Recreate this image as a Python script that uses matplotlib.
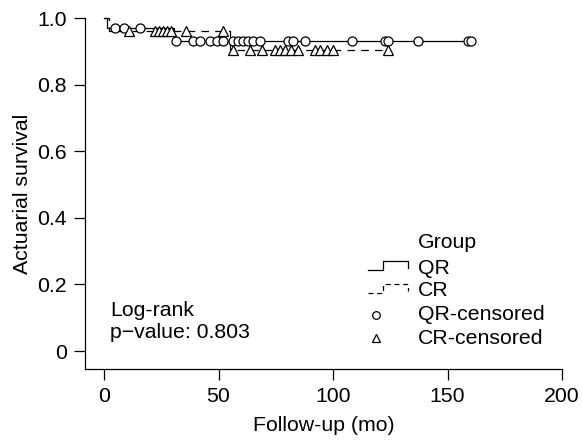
import numpy as np
import matplotlib
matplotlib.use("Agg")
import matplotlib.pyplot as plt
from matplotlib.lines import Line2D

plt.rcParams['font.family'] = ['Liberation Sans', 'DejaVu Sans']
plt.rcParams['font.size'] = 15.3

# step curves (time in months, survival)
qr_step_t = [0, 1.5, 30.5]
qr_step_s = [1.0, 0.970, 0.932]
qr_end = 160.3
cr_step_t = [0, 2.0, 55.0]
cr_step_s = [1.0, 0.961, 0.904]
cr_end = 124.0

# censoring times
qr_cens = [4.8, 8.7, 15.7, 31.5, 38.9, 41.9, 46.3, 49.3, 52.0, 56.3, 58.5,
           60.7, 62.9, 65.1, 68.1, 80.3, 82.5, 87.8, 108.3, 122.7, 124.0,
           137.1, 159.0, 160.3]
cr_cens = [10.9, 22.3, 24.0, 25.8, 27.5, 29.3, 35.8, 52.0, 56.5, 63.8, 69.0,
           74.7, 76.9, 79.0, 81.7, 84.7, 92.1, 94.3, 97.4, 100.0, 124.0]

pvalue = 0.803


def step_at(times, levels, t):
    idx = np.searchsorted(times, t, side='right') - 1
    return np.asarray(levels)[idx]


W, H = 582, 441
fig = plt.figure(figsize=(W / 100, H / 100), dpi=100)
ax = fig.add_axes([85 / W, 1 - 369 / H, 477 / W, 351 / H])

lw = 0.9
ax.step(qr_step_t + [qr_end], qr_step_s + [qr_step_s[-1]], where='post',
        color='black', lw=lw, clip_on=False)
ax.step(cr_step_t + [cr_end], cr_step_s + [cr_step_s[-1]], where='post',
        color='black', lw=lw, ls=(0, (6, 5)), clip_on=False)
ax.plot(qr_cens, step_at(qr_step_t, qr_step_s, qr_cens), ls='none',
        marker='o', ms=6.5, mfc='white', mec='black', mew=0.9, clip_on=False)
ax.plot(cr_cens, step_at(cr_step_t, cr_step_s, cr_cens), ls='none',
        marker='^', ms=7.5, mfc='white', mec='black', mew=0.9, clip_on=False)

ax.set_xlim(-8.3, 200)
ax.set_ylim(-0.054, 1.0)
ax.set_xticks([0, 50, 100, 150, 200])
ax.set_yticks([0, 0.2, 0.4, 0.6, 0.8, 1.0])
ax.set_yticklabels(['0', '0.2', '0.4', '0.6', '0.8', '1.0'])
for s in ['top', 'right']:
    ax.spines[s].set_visible(False)
for s in ['left', 'bottom']:
    ax.spines[s].set_linewidth(0.9)
ax.tick_params(length=8, width=0.9, pad=5)
ax.set_xlabel('Follow-up (mo)', labelpad=7)
ax.set_ylabel('Actuarial survival', labelpad=4)

ax.text(110 / W, 1 - 310 / H, 'Log-rank', transform=fig.transFigure,
        va='center', ha='left')
ax.text(110 / W, 1 - 333 / H, f'p\u2212value: {pvalue}',
        transform=fig.transFigure, va='center', ha='left')


# hand-made legend
def px(x, y):
    return x / W, 1 - y / H


def fig_line(xs, ys, **kw):
    fx = [x / W for x in xs]
    fy = [1 - y / H for y in ys]
    fig.add_artist(Line2D(fx, fy, color='black', lw=lw, **kw))


fig.text(*px(418, 242), 'Group', va='center', ha='left')
labels = ['QR', 'CR', 'QR-censored', 'CR-censored']
rows = [268, 291, 315, 338]
for lab, y in zip(labels, rows):
    fig.text(*px(418, y), lab, va='center', ha='left')

for y, ls in [(rows[0], '-'), (rows[1], (0, (4, 3)))]:
    fig_line([368, 383, 383, 408, 408], [y + 2, y + 2, y - 7, y - 7, y],
             ls=ls)
fig.add_artist(Line2D([376 / W], [1 - rows[2] / H], ls='none', marker='o',
                      ms=5.5, mfc='white', mec='black', mew=0.9))
fig.add_artist(Line2D([376 / W], [1 - rows[3] / H], ls='none', marker='^',
                      ms=6, mfc='white', mec='black', mew=0.9))

fig.savefig('out.png', dpi=100)
